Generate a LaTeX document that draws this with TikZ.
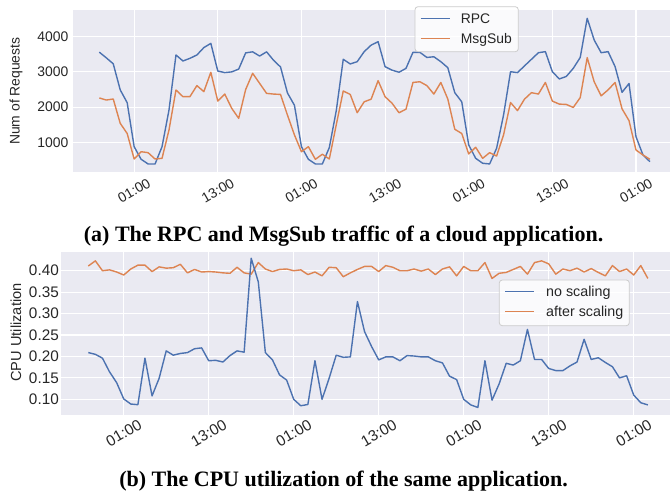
\documentclass[tikz,border=0pt]{standalone}
\usepackage{fontspec}
\setmainfont{Liberation Serif}
\setsansfont{Liberation Sans}
\definecolor{sbblue}{HTML}{4C72B0}
\definecolor{sborange}{HTML}{DD8452}
\definecolor{sbbg}{HTML}{EAEAF2}
\definecolor{legedge}{HTML}{CCCCCC}
\tikzset{
  axbg/.style={fill=sbbg},
  gridline/.style={draw=white, line width=1.1pt},
  bluel/.style={draw=sbblue, line width=1.4pt, line join=round},
  orangel/.style={draw=sborange, line width=1.4pt, line join=round},
  ticklabA/.style={font=\sffamily\fontsize{13.9}{16}\selectfont, text=black!85, inner sep=0pt},
  ticklabB/.style={font=\sffamily\fontsize{15.3}{18}\selectfont, text=black!85, inner sep=0pt},
  legbox/.style={fill=white, fill opacity=0.8, draw=legedge, line width=0.8pt, rounded corners=3pt},
  captxt/.style={font=\bfseries\fontsize{22}{26}\selectfont, inner sep=0pt},
}
\begin{document}
\begin{tikzpicture}[x=1pt,y=1pt]
\useasboundingbox (0,0) rectangle (670,493);
% ================= top plot =================
\fill[axbg] (72.5,321.3) rectangle (670,483);
\begin{scope}[shift={(99.3,315.5)}, x=6.97pt, y=0.0352pt]
  \foreach \h in {5,17,29,41,53,65,77} \draw[gridline] (\h,165) -- (\h,4758);
  \foreach \v in {1000,2000,3000,4000} {
    \draw[gridline] (-3.85,\v) -- (81.88,\v);
    \node[ticklabA, anchor=east] (ya\v) at (-4.42,\v) {\v};
  }
  \foreach \h/\t [count=\k] in {5/01:00,17/13:00,29/01:00,41/13:00,53/01:00,65/13:00,77/01:00}
    \node[ticklabA, rotate=30] (xa\k) at (\h,-378) {\t};
  \draw[bluel] plot coordinates {(0,3560) (1,3400) (2,3230) (3,2490) (4,2125) (5,875) (6,517) (7,384) (8,384) (9,875) (10,1917) (11,3480) (12,3310) (13,3385) (14,3480) (15,3690) (16,3810) (17,3025) (18,2980) (19,3000) (20,3080) (21,3540) (22,3570) (23,3450) (24,3570) (25,3330) (26,3140) (27,2400) (28,2050) (29,875) (30,517) (31,384) (32,384) (33,850) (34,1900) (35,3357) (36,3225) (37,3290) (38,3574) (39,3760) (40,3858) (41,3148) (42,3050) (43,2990) (44,3100) (45,3555) (46,3555) (47,3410) (48,3430) (49,3290) (50,3120) (51,2410) (52,2150) (53,925) (54,545) (55,404) (56,385) (57,830) (58,1775) (59,3005) (60,2980) (61,3170) (62,3357) (63,3545) (64,3575) (65,3005) (66,2800) (67,2870) (68,3100) (69,3410) (70,4522) (71,3906) (72,3545) (73,3575) (74,3150) (75,2420) (76,2670) (77,1160) (78,640) (79,450)};
  \draw[orangel] plot coordinates {(0,2260) (1,2200) (2,2230) (3,1540) (4,1250) (5,525) (6,733) (7,705) (8,525) (9,545) (10,1350) (11,2486) (12,2296) (13,2296) (14,2610) (15,2440) (16,2988) (17,2170) (18,2370) (19,1965) (20,1680) (21,2500) (22,2960) (23,2675) (24,2390) (25,2370) (26,2360) (27,1770) (28,1208) (29,733) (30,875) (31,517) (32,660) (33,525) (34,1500) (35,2457) (36,2360) (37,1840) (38,2150) (39,2225) (40,2750) (41,2296) (42,2110) (43,1840) (44,1940) (45,2700) (46,2720) (47,2610) (48,2370) (49,2700) (50,2230) (51,1370) (52,1250) (53,670) (54,858) (55,545) (56,705) (57,610) (58,1210) (59,2130) (60,1900) (61,2225) (62,2410) (63,2370) (64,2700) (65,2170) (66,2085) (67,2075) (68,1990) (69,2270) (70,3405) (71,2720) (72,2320) (73,2490) (74,2700) (75,1950) (76,1615) (77,780) (78,640) (79,517)};
\end{scope}
\node[ticklabA, rotate=90] (ylabA) at (16,401.8) {Num of Requests};
% legend top
\draw[legbox] (415,441.3) rectangle (518.3,486.3);
\coordinate (la1) at (420.7,474.7); \coordinate (la2) at (450,474.7);
\coordinate (lb1) at (420.7,454.7); \coordinate (lb2) at (450,454.7);
\draw[bluel] (la1) -- (la2);
\draw[orangel] (lb1) -- (lb2);
\node[ticklabA, anchor=base west] (legRPC) at (460.7,469.7) {RPC};
\node[ticklabA, anchor=base west] (legMsg) at (460.7,449.7) {MsgSub};
\node[captxt] (capA) at (343.6,257) {(a) The RPC and MsgSub traffic of a cloud application.};
% ================= bottom plot =================
\fill[axbg] (61,78) rectangle (670,241);
\begin{scope}[shift={(88.3,50.8)}, x=7.083pt, y=428.7pt]
  \foreach \h in {5,17,29,41,53,65,77} \draw[gridline] (\h,0.0634) -- (\h,0.4437);
  \foreach \u/\t [count=\k] in {0.10/0.10,0.15/0.15,0.20/0.20,0.25/0.25,0.30/0.30,0.35/0.35,0.40/0.40} {
    \draw[gridline] (-3.854,\u) -- (82.13,\u);
    \node[ticklabB, anchor=east] (yb\k) at (-4.14,\u) {\t};
  }
  \foreach \h/\t [count=\k] in {5/01:00,17/13:00,29/01:00,41/13:00,53/01:00,65/13:00,77/01:00}
    \node[ticklabB, rotate=30] (xb\k) at (\h,0.0215) {\t};
  \draw[orangel] plot coordinates {(0,.411) (1,.423) (2,.400) (3,.402) (4,.397) (5,.390) (6,.404) (7,.413) (8,.413) (9,.398) (10,.409) (11,.406) (12,.407) (13,.415) (14,.395) (15,.403) (16,.397) (17,.398) (18,.397) (19,.395) (20,.394) (21,.408) (22,.395) (23,.392) (24,.419) (25,.404) (26,.398) (27,.403) (28,.404) (29,.400) (30,.402) (31,.391) (32,.397) (33,.388) (34,.408) (35,.407) (36,.386) (37,.395) (38,.403) (39,.410) (40,.410) (41,.398) (42,.412) (43,.408) (44,.400) (45,.400) (46,.404) (47,.399) (48,.404) (49,.391) (50,.404) (51,.409) (52,.388) (53,.410) (54,.400) (55,.400) (56,.419) (57,.382) (58,.394) (59,.396) (60,.403) (61,.410) (62,.392) (63,.419) (64,.423) (65,.416) (66,.392) (67,.404) (68,.400) (69,.406) (70,.397) (71,.405) (72,.396) (73,.388) (74,.412) (75,.398) (76,.404) (77,.390) (78,.412) (79,.382)};
  \draw[bluel] plot coordinates {(0,.209) (1,.205) (2,.196) (3,.164) (4,.139) (5,.101) (6,.089) (7,.0875) (8,.196) (9,.108) (10,.149) (11,.213) (12,.203) (13,.207) (14,.209) (15,.218) (16,.220) (17,.190) (18,.191) (19,.187) (20,.202) (21,.213) (22,.210) (23,.429) (24,.374) (25,.209) (26,.192) (27,.157) (28,.145) (29,.100) (30,.085) (31,.088) (32,.190) (33,.100) (34,.149) (35,.203) (36,.198) (37,.199) (38,.328) (39,.258) (40,.223) (41,.192) (42,.199) (43,.199) (44,.190) (45,.202) (46,.201) (47,.199) (48,.199) (49,.190) (50,.185) (51,.154) (52,.146) (53,.100) (54,.087) (55,.081) (56,.190) (57,.098) (58,.136) (59,.184) (60,.180) (61,.190) (62,.263) (63,.193) (64,.193) (65,.172) (66,.167) (67,.167) (68,.178) (69,.187) (70,.240) (71,.193) (72,.197) (73,.186) (74,.176) (75,.150) (76,.155) (77,.110) (78,.092) (79,.087)};
\end{scope}
\node[font=\sffamily\fontsize{14.6}{17}\selectfont, text=black!85, inner sep=0pt, rotate=90] (ylabB) at (16,160.5) {CPU Utilization};
% legend bottom
\draw[legbox] (499.3,167.3) rectangle (629.3,213);
\coordinate (lc1) at (505,201.3); \coordinate (lc2) at (534,201.3);
\coordinate (ld1) at (505,181.3); \coordinate (ld2) at (534,181.3);
\draw[bluel] (lc1) -- (lc2);
\draw[orangel] (ld1) -- (ld2);
\node[font=\sffamily\fontsize{14.3}{17}\selectfont, text=black!85, inner sep=0pt, anchor=base west] (legNo) at (546,196.5) {no scaling};
\node[font=\sffamily\fontsize{14.3}{17}\selectfont, text=black!85, inner sep=0pt, anchor=base west] (legAf) at (546,176.5) {after scaling};
\node[captxt] (capB) at (343.6,12) {(b) The CPU utilization of the same application.};
\end{tikzpicture}
\end{document}
